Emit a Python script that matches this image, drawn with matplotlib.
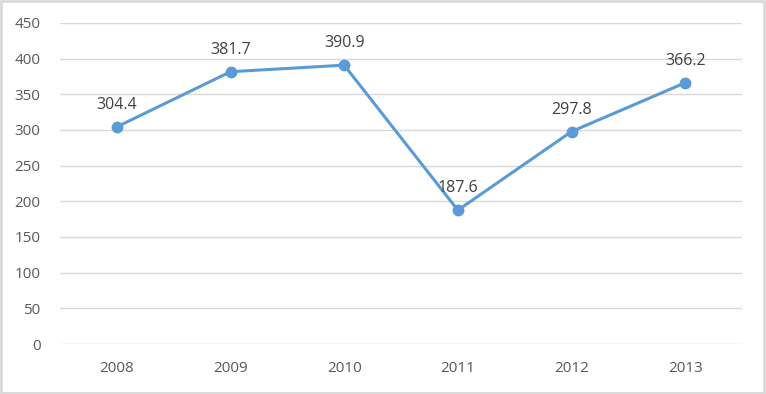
import numpy as np
import matplotlib.pyplot as plt
from matplotlib.patches import Rectangle

years = ['2008', '2009', '2010', '2011', '2012', '2013']
values = [304.4, 381.7, 390.9, 187.6, 297.8, 366.2]

plt.rcParams['font.family'] = ['Open Sans', 'DejaVu Sans']

fig = plt.figure(figsize=(7.66, 3.94), dpi=100)
ax = fig.add_axes([60/766, 50/394, 682/766, 321/394])

x = np.arange(len(years))
ax.plot(x, values, color='#5B9BD5', lw=2.2, marker='o', ms=7.5, zorder=3)
for xi, v in zip(x, values):
    ax.annotate('%.1f' % v, (xi, v), xytext=(0, 10), textcoords='offset points',
                ha='center', va='bottom', fontsize=11.5, color='#404040')

ax.set_xlim(-0.5, 5.5)
ax.set_ylim(0, 450)
ax.set_yticks(np.arange(0, 451, 50))
ax.set_xticks(x)
ax.set_xticklabels(years)
ax.grid(axis='y', color='#D9D9D9', lw=1)
ax.set_axisbelow(True)
for s in ax.spines.values():
    s.set_visible(False)
ax.tick_params(length=0, labelsize=11, colors='#595959')
ax.tick_params(axis='y', pad=14)
ax.tick_params(axis='x', pad=12)

# outer chart border
fig.patches.append(Rectangle((0.001, 0.002), 0.997, 0.995, transform=fig.transFigure,
                             fill=False, edgecolor='#D9D9D9', lw=2))

fig.savefig('out.png', dpi=100)
